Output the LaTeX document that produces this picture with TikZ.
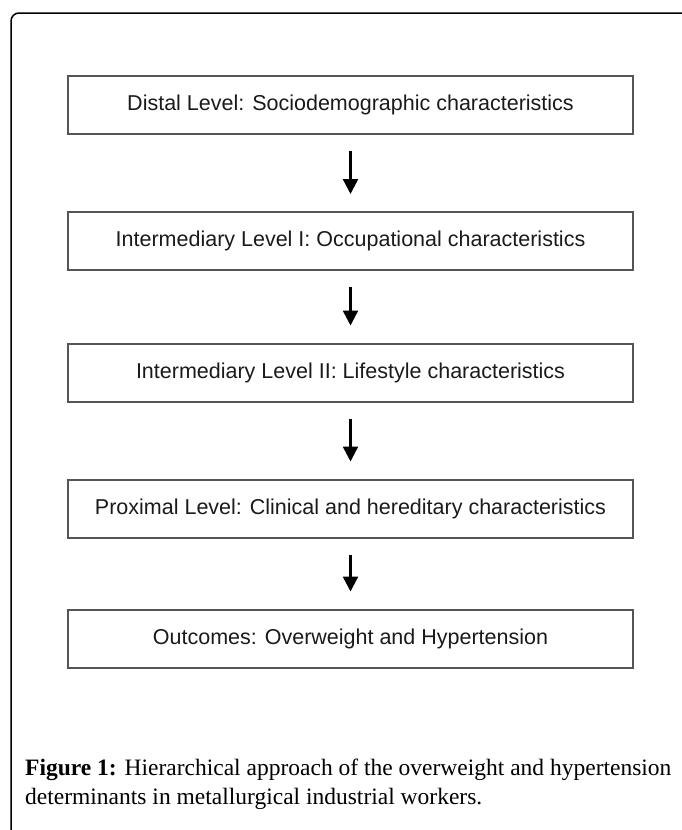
\documentclass[tikz,border=0pt]{standalone}
\usepackage{fontspec}
\usetikzlibrary{arrows.meta}
\newfontfamily\boxfont{Liberation Sans}
\newfontfamily\capfont{Liberation Serif}
\definecolor{boxline}{HTML}{555555}
\definecolor{boxtext}{HTML}{1A1A1A}
\begin{document}
\begin{tikzpicture}[x=1pt,y=-1pt,
  levelbox/.style={draw=boxline, line width=2pt, minimum width=565pt, minimum height=58pt,
    inner sep=0pt, text=boxtext, font=\boxfont\fontsize{21.5}{24}\selectfont},
  arr/.style={line width=2.4pt, -{Triangle[length=15pt,width=15pt]}, shorten <=16pt, shorten >=17pt},
  capline/.style={anchor=base west, inner sep=0pt, font=\capfont\fontsize{23.5}{29}\selectfont}
]
\useasboundingbox (0,0) rectangle (681,830);
\draw[line width=1.5pt, rounded corners=8pt] (11,831) -- (11,13) -- (682,13);
\node[levelbox] (b1) at (350.5,105) {Distal Level: Sociodemographic characteristics};
\node[levelbox] (b2) at (350.5,241) {Intermediary Level I: Occupational characteristics};
\node[levelbox] (b3) at (350.5,372.5) {Intermediary Level II: Lifestyle characteristics};
\node[levelbox] (b4) at (350.5,508.5) {Proximal Level: Clinical and hereditary characteristics};
\node[levelbox] (b5) at (350.5,638.5) {Outcomes: Overweight and Hypertension};
\draw[arr] (b1) -- (b2);
\draw[arr] (b2) -- (b3);
\draw[arr] (b3) -- (b4);
\draw[arr] (b4) -- (b5);
\node[capline] (cap1) at (25,775) {\textbf{Figure 1:} Hierarchical approach of the overweight and hypertension};
\node[capline] (cap2) at (25,804) {determinants in metallurgical industrial workers.};
\end{tikzpicture}
\end{document}
